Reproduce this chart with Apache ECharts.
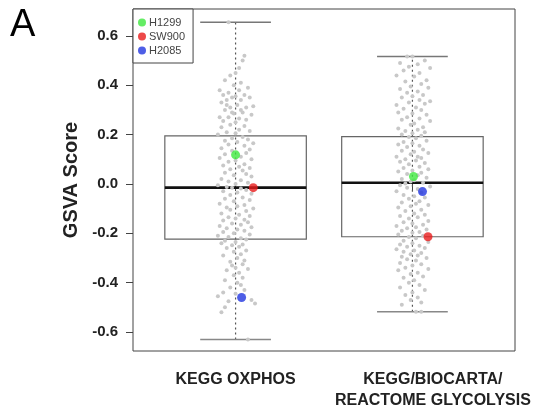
<!DOCTYPE html>
<html>
<head>
<meta charset="utf-8">
<script src="https://cdn.jsdelivr.net/npm/echarts@6/dist/echarts.min.js"></script>
<style>
  html, body { margin: 0; padding: 0; background: #fff; }
  #chart { width: 537px; height: 411px; }
</style>
</head>
<body>
<div id="chart"></div>
<script>
// Gene-set groups on the x axis
const categories = ['KEGG OXPHOS', 'KEGG/BIOCARTA/\nREACTOME GLYCOLYSIS'];
const yTicks = [-0.6, -0.4, -0.2, 0.0, 0.2, 0.4, 0.6];

// Box summary per group
const whiskerLow  = [-0.63, -0.518];
const quartile1   = [-0.224, -0.214];
const medians     = [-0.015, 0.005];
const quartile3   = [0.195, 0.192];
const whiskerHigh = [0.655, 0.516];

// Individual GSVA scores: [horizontal jitter, score]
const oxphosPoints = [
  [-0.04,0.655],
  [0.05,0.52],[0.04,0.50],[0.02,0.47],[0.00,0.45],[-0.03,0.44],
  [-0.06,0.42],[0.03,0.41],[-0.01,0.40],[0.07,0.39],[-0.09,0.38],[0.02,0.38],[-0.04,0.37],[0.05,0.36],[-0.07,0.36],[0.00,0.355],[-0.02,0.35],[0.08,0.35],[-0.05,0.34],[0.03,0.34],
  [-0.08,0.33],[0.01,0.32],[-0.03,0.31],[0.06,0.31],[-0.06,0.30],[0.04,0.29],[-0.01,0.285],[0.09,0.28],[-0.09,0.27],[-0.04,0.27],[0.02,0.265],[0.06,0.26],[-0.07,0.255],[0.00,0.25],[0.03,0.30],[-0.02,0.29],[0.10,0.315],[-0.05,0.32],
  [-0.03,0.24],[0.05,0.235],[-0.08,0.23],[0.02,0.22],[0.08,0.215],[-0.05,0.21],[0.00,0.205],[-0.10,0.20],[0.04,0.19],[-0.02,0.185],[0.07,0.18],[-0.06,0.175],[0.01,0.17],[0.10,0.165],[-0.04,0.16],[0.05,0.155],
  [-0.08,0.145],[0.08,0.14],[-0.02,0.135],[0.06,0.125],[-0.06,0.12],[0.03,0.11],[-0.09,0.105],[0.09,0.10],[0.00,0.095],[-0.04,0.09],[0.05,0.08],[-0.07,0.075],[0.02,0.07],[0.08,0.065],[-0.03,0.06],[0.04,0.055],
  [-0.06,0.045],[0.06,0.04],[-0.01,0.035],[0.09,0.03],[-0.08,0.02],[0.03,0.015],[-0.04,0.01],[0.07,0.005],[0.00,0.0],[-0.10,-0.005],[-0.05,-0.012],[-0.02,-0.015],[0.03,-0.018],[0.06,-0.025],[-0.07,-0.03],[0.01,-0.035],[0.09,-0.04],[-0.03,-0.045],
  [0.04,-0.055],[-0.06,-0.06],[0.08,-0.065],[-0.01,-0.07],[-0.09,-0.08],[0.05,-0.085],[0.01,-0.09],[-0.05,-0.095],[0.10,-0.10],[-0.03,-0.105],[0.06,-0.11],[-0.08,-0.12],[0.02,-0.125],[0.08,-0.13],[-0.04,-0.135],[0.00,-0.14],[0.05,-0.145],[-0.07,-0.148],
  [0.07,-0.155],[-0.02,-0.16],[0.03,-0.165],[-0.09,-0.17],[0.09,-0.175],[-0.05,-0.18],[0.01,-0.185],[0.05,-0.19],[-0.07,-0.195],[-0.01,-0.20],[0.08,-0.205],[-0.10,-0.21],[-0.04,-0.215],[0.03,-0.22],[0.06,-0.225],[-0.06,-0.23],[0.00,-0.235],[-0.08,-0.24],[0.04,-0.245],[-0.02,-0.248],
  [0.02,-0.255],[-0.05,-0.26],[0.06,-0.27],[-0.01,-0.275],[0.03,-0.285],[-0.07,-0.29],[0.01,-0.30],[0.05,-0.31],[-0.03,-0.315],[0.04,-0.325],[-0.02,-0.33],[0.00,-0.34],[0.07,-0.345],[-0.05,-0.35],
  [0.02,-0.36],[-0.01,-0.37],[0.04,-0.38],[-0.06,-0.39],[0.01,-0.40],[0.03,-0.41],[-0.03,-0.42],[0.05,-0.43],[-0.07,-0.44],[0.00,-0.445],
  [-0.10,-0.455],[0.09,-0.47],[-0.04,-0.475],[0.11,-0.485],[-0.06,-0.50],[-0.08,-0.52],
  [0.07,-0.63]
];
const glycolysisPoints = [
  [0.00,0.516],[-0.03,0.516],
  [0.07,0.50],[-0.07,0.49],[0.03,0.485],[-0.02,0.475],[0.10,0.47],[-0.05,0.46],[0.04,0.45],[-0.09,0.44],[0.01,0.435],[0.08,0.42],[-0.04,0.415],[0.05,0.405],
  [-0.01,0.395],[0.09,0.39],[-0.07,0.385],[0.03,0.375],[-0.03,0.37],[0.06,0.36],[0.00,0.355],[-0.06,0.35],[0.04,0.34],[0.10,0.335],[-0.02,0.33],[0.07,0.325],[-0.09,0.32],[0.02,0.31],[-0.05,0.305],[0.05,0.30],
  [-0.08,0.29],[0.00,0.285],[0.08,0.28],[-0.03,0.27],[0.04,0.265],[-0.06,0.26],[0.10,0.255],[0.01,0.245],[-0.01,0.24],[0.06,0.23],[-0.08,0.225],[0.03,0.22],[-0.04,0.215],[0.07,0.21],[0.00,0.205],[-0.06,0.20],
  [0.05,0.195],[-0.02,0.19],[0.02,0.185],[0.08,0.175],[-0.05,0.17],[0.00,0.165],[-0.08,0.16],[0.04,0.155],[-0.03,0.15],[0.06,0.14],[-0.06,0.135],[0.01,0.13],[0.09,0.125],[-0.01,0.12],[-0.09,0.11],[0.03,0.11],[0.05,0.105],[-0.04,0.10],
  [0.02,0.095],[-0.07,0.09],[0.07,0.085],[-0.02,0.08],[0.04,0.07],[-0.05,0.065],[0.09,0.06],[0.00,0.055],[-0.08,0.05],[0.05,0.045],[-0.03,0.04],[0.03,0.035],[0.08,0.025],[-0.06,0.02],[0.01,0.015],[-0.01,0.01],[0.06,0.005],[-0.04,0.002],
  [-0.07,-0.005],[0.10,-0.01],[-0.03,-0.015],[0.03,-0.02],[-0.09,-0.03],[0.05,-0.035],[-0.05,-0.045],[0.01,-0.05],[0.07,-0.055],[-0.02,-0.06],[0.04,-0.07],[-0.06,-0.075],[0.02,-0.08],[0.09,-0.085],[-0.01,-0.09],[-0.08,-0.095],
  [0.05,-0.105],[-0.04,-0.11],[0.01,-0.12],[0.07,-0.125],[-0.07,-0.13],[0.03,-0.135],[-0.02,-0.14],[0.09,-0.15],[-0.05,-0.155],[0.00,-0.16],[0.06,-0.165],[-0.09,-0.17],[0.02,-0.175],[-0.03,-0.18],[0.08,-0.185],[-0.06,-0.19],[0.04,-0.195],[0.00,-0.198],
  [-0.08,-0.205],[0.06,-0.21],[-0.02,-0.215],[0.02,-0.22],[-0.05,-0.23],[0.09,-0.235],[0.00,-0.24],[-0.07,-0.245],[0.04,-0.25],[-0.03,-0.255],[0.07,-0.26],[-0.09,-0.265],[0.01,-0.27],[-0.05,-0.275],[0.05,-0.28],[-0.01,-0.285],[0.03,-0.29],[-0.06,-0.295],
  [0.08,-0.30],[-0.03,-0.305],[0.02,-0.31],[-0.07,-0.32],[0.05,-0.325],[0.00,-0.33],[-0.04,-0.34],[0.09,-0.345],[-0.08,-0.35],[0.03,-0.36],[-0.01,-0.365],[0.06,-0.375],[-0.05,-0.38],[0.01,-0.39],
  [-0.02,-0.40],[0.04,-0.41],[-0.07,-0.42],[0.07,-0.43],[0.00,-0.44],[-0.04,-0.45],[0.03,-0.46],[-0.01,-0.47],[0.05,-0.48],[-0.06,-0.49],
  [0.02,-0.518],[0.05,-0.518]
];

// Highlighted cell lines: [jitter, score] for OXPHOS then glycolysis
const h1299Scores = [[0.00, 0.118], [0.006, 0.03]];
const sw900Scores = [[0.10, -0.015], [0.088, -0.214]];
const h2085Scores = [[0.034, -0.46], [0.057, -0.031]];

const FONT = 'Liberation Sans, Arial, Helvetica, sans-serif';

function place(points, groupIndex) {
  return points.map(p => [groupIndex + 1 + p[0], p[1]]);
}
function placePairs(pairs) {
  return pairs.map((p, i) => [i + 1 + p[0], p[1]]);
}

// The long two-line glycolysis label is set a little right of its tick,
// so it gets its own label-only axis sharing the same scale.
const glycolysisLabelShift = 0.116;
const X_MIN = 0.42, X_MAX = 2.58;

const labelFont = { fontSize: 16, fontWeight: 'bold', color: '#222', fontFamily: FONT, lineHeight: 21 };

const boxData = categories.map((c, i) =>
  [i + 1, whiskerLow[i], quartile1[i], medians[i], quartile3[i], whiskerHigh[i]]);

const chart = echarts.init(document.getElementById('chart'), null, { renderer: 'canvas' });

chart.setOption({
  animation: false,
  backgroundColor: '#fff',
  textStyle: { fontFamily: FONT },
  graphic: [{
    type: 'text', left: 10, top: 7,
    style: { text: 'A', font: '38px ' + FONT, fill: '#000' }
  }],
  legend: {
    left: 133, top: 9,
    orient: 'vertical',
    data: ['H1299', 'SW900', 'H2085'],
    icon: 'circle',
    itemWidth: 8, itemHeight: 8, itemGap: 3,
    padding: [8, 8, 7, 5],
    borderColor: '#444', borderWidth: 1, borderRadius: 0,
    backgroundColor: '#fff',
    textStyle: { fontSize: 11, color: '#444', fontFamily: FONT, padding: [0, 0, 0, -2] }
  },
  grid: {
    left: 133, right: 22, top: 9, bottom: 60,
    show: true, borderColor: '#444', borderWidth: 1, backgroundColor: 'transparent'
  },
  xAxis: [
    {
      type: 'value', min: X_MIN, max: X_MAX, position: 'bottom',
      splitLine: { show: false },
      axisLine: { show: false },
      axisTick: { show: true, customValues: [1, 2], length: 7, lineStyle: { color: '#444' } },
      axisLabel: {
        customValues: [1],
        formatter: () => categories[0],
        margin: 18,
        ...labelFont
      }
    },
    {
      type: 'value', min: X_MIN, max: X_MAX, position: 'bottom', offset: 0,
      splitLine: { show: false },
      axisLine: { show: false },
      axisTick: { show: false },
      axisLabel: {
        customValues: [2 + glycolysisLabelShift],
        formatter: () => categories[1],
        margin: 18,
        ...labelFont
      }
    }
  ],
  yAxis: {
    type: 'value', min: -0.677, max: 0.709,
    name: 'GSVA Score', nameLocation: 'middle', nameGap: 52,
    nameTextStyle: { fontSize: 20, fontWeight: 'bold', color: '#222', fontFamily: FONT },
    splitLine: { show: false },
    axisLine: { show: false },
    axisTick: { show: true, customValues: yTicks, length: 7, lineStyle: { color: '#444' } },
    axisLabel: {
      customValues: yTicks,
      formatter: v => v.toFixed(1),
      margin: 15,
      fontSize: 15, fontWeight: 'bold', color: '#222', fontFamily: FONT
    }
  },
  series: [
    {
      type: 'custom',
      name: 'box',
      z: 1,
      data: boxData,
      renderItem(params, api) {
        const x = api.value(0);
        const lo = api.coord([x, api.value(1)]);
        const hi = api.coord([x, api.value(5)]);
        const boxTL = api.coord([x - 0.4, api.value(4)]);
        const boxBR = api.coord([x + 0.4, api.value(2)]);
        const medL = api.coord([x - 0.4, api.value(3)]);
        const medR = api.coord([x + 0.4, api.value(3)]);
        const capL = api.coord([x - 0.2, 0])[0];
        const capR = api.coord([x + 0.2, 0])[0];
        return {
          type: 'group',
          children: [
            { type: 'line', shape: { x1: lo[0], y1: lo[1], x2: hi[0], y2: hi[1] },
              style: { stroke: '#555', lineWidth: 1.2, lineDash: [2, 3] } },
            { type: 'line', shape: { x1: capL, y1: hi[1], x2: capR, y2: hi[1] },
              style: { stroke: '#777', lineWidth: 1.5 } },
            { type: 'line', shape: { x1: capL, y1: lo[1], x2: capR, y2: lo[1] },
              style: { stroke: '#888', lineWidth: 1.5 } },
            { type: 'rect', shape: { x: boxTL[0], y: boxTL[1], width: boxBR[0] - boxTL[0], height: boxBR[1] - boxTL[1] },
              style: { fill: 'none', stroke: '#666', lineWidth: 1.2 } },
            { type: 'line', shape: { x1: medL[0], y1: medL[1], x2: medR[0], y2: medR[1] },
              style: { stroke: '#111', lineWidth: 2.6 } }
          ]
        };
      }
    },
    {
      type: 'scatter', name: 'scores', z: 2,
      symbolSize: 4,
      itemStyle: { color: '#c8c8c8', opacity: 1 },
      data: place(oxphosPoints, 0).concat(place(glycolysisPoints, 1))
    },
    {
      type: 'scatter', name: 'H1299', z: 3, symbolSize: 9,
      itemStyle: { color: '#3ee83e' },
      data: placePairs(h1299Scores)
    },
    {
      type: 'scatter', name: 'SW900', z: 3, symbolSize: 9,
      itemStyle: { color: '#e81c1c' },
      data: placePairs(sw900Scores)
    },
    {
      type: 'scatter', name: 'H2085', z: 3, symbolSize: 9,
      itemStyle: { color: '#2236e0' },
      data: placePairs(h2085Scores)
    }
  ]
});
</script>
</body>
</html>
